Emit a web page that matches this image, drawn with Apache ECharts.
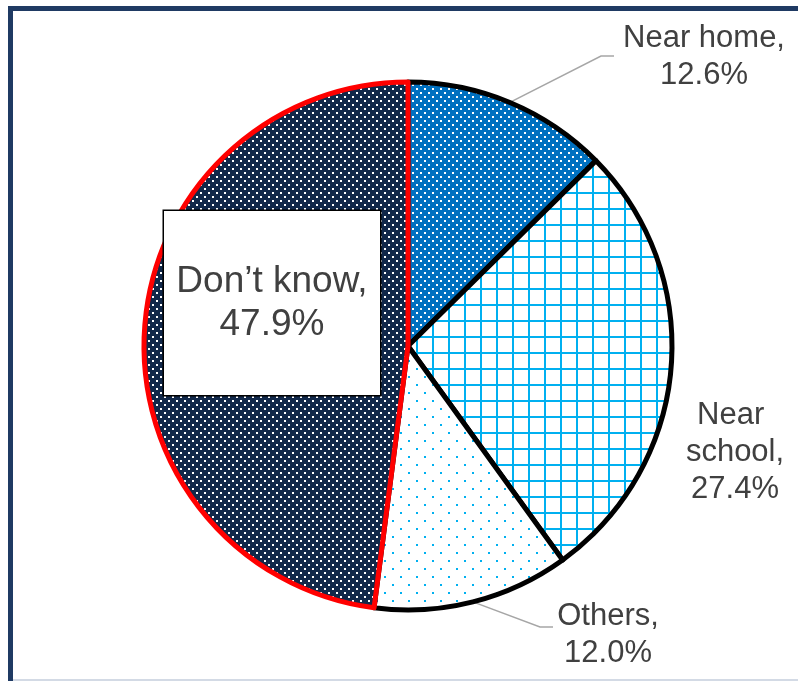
<!DOCTYPE html>
<html>
<head>
<meta charset="utf-8">
<script src="https://cdn.jsdelivr.net/npm/echarts@6/dist/echarts.min.js"></script>
<style>
  html, body { margin: 0; padding: 0; background: #ffffff; }
  #chart { width: 798px; height: 681px; }
</style>
</head>
<body>
<div id="chart"></div>
<script>
// Where respondents would go (shares in %)
const categories = ['Near home', 'Near school', 'Others', 'Don\u2019t know'];
const shares = [12.6, 27.4, 12.0, 47.9];

// Tiled canvas fills for the slices
function tile(size, bg, draw) {
  const c = document.createElement('canvas');
  c.width = size; c.height = size;
  const g = c.getContext('2d');
  if (bg) { g.fillStyle = bg; g.fillRect(0, 0, size, size); }
  draw(g);
  return { image: c, repeat: 'repeat' };
}
function dotTile(size, bg, dot) {
  return tile(size, bg, function (g) {
    g.fillStyle = dot;
    g.fillRect(0, 0, 2, 2);
    g.fillRect(size / 2, size / 2, 2, 2);
  });
}
const fills = [
  dotTile(8, '#0070C0', '#ffffff'),
  tile(16, '#ffffff', function (g) {
    g.fillStyle = '#00B0F0';
    g.fillRect(0, 0, 16, 2);
    g.fillRect(0, 0, 2, 16);
  }),
  dotTile(16, '#ffffff', '#00B0F0'),
  dotTile(8, '#11284A', '#ffffff')
];
const edges = ['#000000', '#000000', '#000000', '#FF0000'];

// Label placement around the pie
const labelSpots = [
  { x: 704, y: 57, elbow: [601, 56], end: [614, 56] },
  { x: 735, y: 452 },
  { x: 608, y: 635, elbow: [540, 627], end: [553, 627] },
  { x: 272, y: 303 }
];

const textColor = '#404040';
const fontFamily = '"Liberation Sans", Arial, sans-serif';

const pieData = categories.map(function (name, i) {
  const item = {
    name: name,
    value: shares[i],
    itemStyle: { color: fills[i], borderColor: edges[i], borderWidth: 5 },
    labelLine: { show: i === 0 || i === 2 }
  };
  if (i === 1) {
    item.label = { width: 120, overflow: 'break' };
  }
  if (i === 3) {
    item.label = {
      fontSize: 37,
      lineHeight: 43,
      width: 216,
      padding: [49, 0, 49, 0],
      backgroundColor: '#ffffff',
      borderColor: '#000000',
      borderWidth: 1.5
    };
  }
  return item;
});

const chart = echarts.init(document.getElementById('chart'), null, { renderer: 'canvas' });
chart.setOption({
  animation: false,
  backgroundColor: '#ffffff',
  graphic: [
    // frame around the chart area
    { type: 'rect', z: 100, shape: { x: 8, y: 6, width: 790, height: 5 }, style: { fill: '#1F3A63' } },
    { type: 'rect', z: 100, shape: { x: 8, y: 6, width: 5, height: 675 }, style: { fill: '#1F3A63' } },
    { type: 'rect', z: 100, shape: { x: 13, y: 679, width: 785, height: 2 }, style: { fill: '#D3DAE5' } }
  ],
  series: [{
    type: 'pie',
    center: [408, 346],
    radius: 264,
    startAngle: 90,
    clockwise: true,
    avoidLabelOverlap: false,
    emphasis: { disabled: true },
    label: {
      show: true,
      position: 'outside',
      color: textColor,
      fontFamily: fontFamily,
      fontSize: 31,
      lineHeight: 37,
      align: 'center',
      formatter: function (p) { return p.name + ',\n' + p.value.toFixed(1) + '%'; }
    },
    labelLine: {
      show: true,
      length: 20,
      length2: 20,
      lineStyle: { color: '#A6A6A6', width: 1.5 }
    },
    labelLayout: function (p) {
      const spot = labelSpots[p.dataIndex];
      const out = { x: spot.x, y: spot.y, align: 'center', verticalAlign: 'middle' };
      if (spot.elbow && p.labelLinePoints) {
        out.labelLinePoints = [p.labelLinePoints[0], spot.elbow, spot.end];
      }
      return out;
    },
    data: pieData
  }]
});
</script>
</body>
</html>
